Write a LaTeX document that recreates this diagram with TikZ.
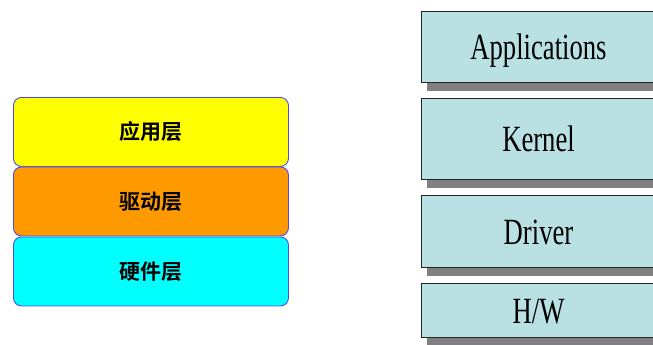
\documentclass[tikz,border=0pt]{standalone}
\usepackage{fontspec}
\setmainfont{Liberation Serif}
\newfontfamily\cjk{Noto Sans CJK SC}[BoldFont={* Bold}]
\definecolor{layerblue}{HTML}{B9E0E3}
\definecolor{shadowgray}{HTML}{808080}
\definecolor{edgeblue}{HTML}{4A4AF0}
\definecolor{ylw}{HTML}{FFFF00}
\definecolor{org}{HTML}{FF9900}
\definecolor{cyn}{HTML}{00FFFF}
\begin{document}
\begin{tikzpicture}[x=1pt,y=-1pt,
  cnbox/.style={draw=edgeblue,line width=0.9pt,rounded corners=8pt,minimum width=275pt,minimum height=69pt,inner sep=0pt,anchor=north west,font=\cjk\bfseries\fontsize{21}{21}\selectfont},
  enbox/.style={draw=black!85,line width=1pt,fill=layerblue,inner sep=0pt,anchor=north west,minimum width=234pt,text height=25pt,text depth=0pt,font=\fontsize{37}{37}\selectfont},
  shadowbox/.style={fill=shadowgray,draw=none}
]
\useasboundingbox (0,0) rectangle (653,345);
\clip (0,0) rectangle (653,345);
% left stack
\node[cnbox,fill=ylw] (app) at (13,97) {应用层};
\node[cnbox,fill=org] (drv) at (13,166.5) {驱动层};
\node[cnbox,fill=cyn] (hw) at (13,236.5) {硬件层};
% right stack shadows
\fill[shadowgray] (427,20) rectangle (661,91);
\fill[shadowgray] (427,108) rectangle (661,188);
\fill[shadowgray] (427,205) rectangle (661,276);
\fill[shadowgray] (427,293) rectangle (661,346);
% right stack boxes
\node[enbox,minimum height=71pt] (apps) at (421,11) {\scalebox{0.72}[1]{Applications}};
\node[enbox,minimum height=81pt] (kern) at (421,98) {\scalebox{0.72}[1]{Kernel}};
\node[enbox,minimum height=72pt] (driv) at (421,195) {\scalebox{0.72}[1]{Driver}};
\node[enbox,minimum height=54pt] (hwe) at (421,283) {\scalebox{0.72}[1]{H/W}};
\end{tikzpicture}
\end{document}
